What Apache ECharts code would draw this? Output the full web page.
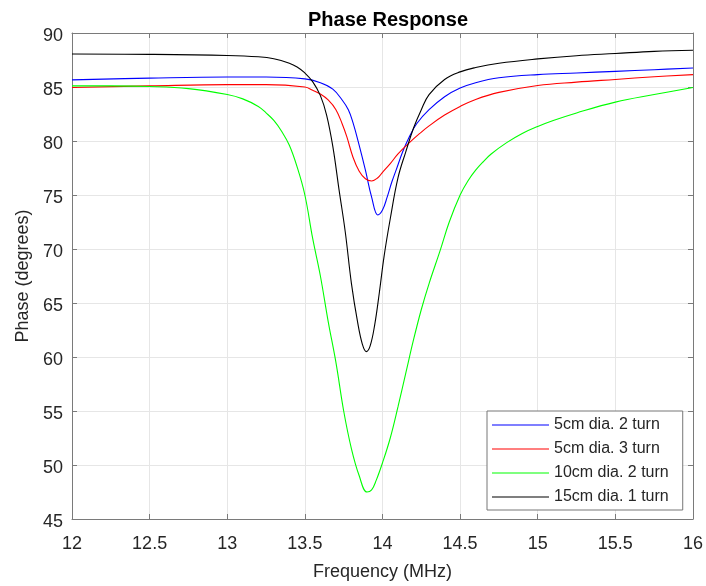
<!DOCTYPE html>
<html>
<head>
<meta charset="utf-8">
<script src="https://cdn.jsdelivr.net/npm/echarts@6/dist/echarts.min.js"></script>
<style>
html,body{margin:0;padding:0;background:#fff;}
#chart{width:706px;height:586px;}
</style>
</head>
<body>
<div id="chart"></div>
<script>
// Tick settings
const xTicks = [12, 12.5, 13, 13.5, 14, 14.5, 15, 15.5, 16];
const yTicks = [45, 50, 55, 60, 65, 70, 75, 80, 85, 90];

const seriesNames = ['5cm dia. 2 turn', '5cm dia. 3 turn', '10cm dia. 2 turn', '15cm dia. 1 turn'];

// [frequency MHz, phase degrees]
const blue5cm2t = [
  [12.0,85.66],[12.5,85.82],[13.0,85.92],[13.25,85.92],[13.5,85.75],[13.6,85.4],[13.68,84.8],
  [13.74,83.8],[13.78,82.9],[13.81,81.7],[13.85,79.6],[13.89,77.3],[13.93,74.8],[13.97,73.15],
  [14.0,73.6],[14.03,74.8],[14.06,76.2],[14.09,77.4],[14.13,79.0],[14.17,80.3],[14.22,81.6],
  [14.3,82.9],[14.4,84.1],[14.5,84.9],[14.6,85.4],[14.75,85.85],[15.0,86.15],[15.25,86.3],
  [15.5,86.45],[15.75,86.6],[16.0,86.76]
];
const red5cm3t = [
  [12.0,84.95],[12.5,85.1],[13.0,85.22],[13.25,85.22],[13.5,85.0],[13.55,84.7],[13.6,84.35],
  [13.65,83.8],[13.7,82.9],[13.74,81.6],[13.77,80.4],[13.81,78.5],[13.85,77.2],[13.89,76.5],
  [13.93,76.3],[13.97,76.6],[14.0,77.1],[14.05,77.9],[14.1,78.8],[14.17,79.8],[14.24,80.7],
  [14.3,81.4],[14.4,82.4],[14.5,83.2],[14.6,83.85],[14.75,84.5],[15.0,85.14],[15.25,85.45],
  [15.5,85.7],[15.75,85.95],[16.0,86.15]
];
const green10cm2t = [
  [12.0,85.1],[12.25,85.1],[12.5,85.05],[12.75,84.85],[13.0,84.3],[13.1,83.9],[13.2,83.2],
  [13.25,82.6],[13.3,81.9],[13.35,80.9],[13.4,79.6],[13.45,77.6],[13.5,75.0],[13.55,71.0],
  [13.6,67.5],[13.65,63.3],[13.7,59.5],[13.75,55.0],[13.8,51.5],[13.85,49.0],[13.9,47.5],
  [13.93,47.7],[13.96,48.6],[14.0,50.2],[14.05,52.5],[14.1,55.4],[14.15,58.5],[14.2,61.6],
  [14.25,64.4],[14.3,66.8],[14.37,69.8],[14.43,72.5],[14.5,75.0],[14.55,76.3],[14.6,77.3],
  [14.65,78.1],[14.7,78.8],[14.8,79.85],[14.9,80.7],[15.0,81.35],[15.1,81.9],[15.25,82.6],
  [15.5,83.6],[15.75,84.3],[16.0,84.95]
];
const black15cm1t = [
  [12.0,88.05],[12.5,88.02],[13.0,87.92],[13.2,87.8],[13.3,87.62],[13.4,87.2],[13.45,86.85],
  [13.5,86.3],[13.55,85.5],[13.6,84.2],[13.64,82.4],[13.68,79.5],[13.72,75.5],[13.76,71.6],
  [13.8,66.8],[13.84,63.2],[13.87,61.2],[13.895,60.5],[13.92,61.0],[13.95,63.0],[13.98,66.0],
  [14.01,69.3],[14.05,72.8],[14.1,76.6],[14.15,79.0],[14.2,81.2],[14.25,82.9],[14.3,84.3],
  [14.4,85.7],[14.5,86.4],[14.6,86.8],[14.75,87.2],[15.0,87.6],[15.25,87.9],[15.5,88.1],
  [15.75,88.3],[16.0,88.4]
];

const colors = ['#0000ff', '#ff0000', '#00ff00', '#000000'];
const datasets = [blue5cm2t, red5cm3t, green10cm2t, black15cm1t];

const font = "'Liberation Sans', Arial, Helvetica, sans-serif";
const txt = '#262626';
const axisCol = '#7a7a7a';

const chart = echarts.init(document.getElementById('chart'), null, {renderer: 'canvas'});

function fmt(v){ return String(v); }
function fmtY(v){ return '{a|' + v + '}'; }

const option = {
  animation: false,
  backgroundColor: '#ffffff',
  title: {
    text: 'Phase Response',
    left: 383, top: 5, textAlign: 'center',
    textStyle: {fontFamily: font, fontSize: 20, fontWeight: 'bold', color: '#000'}
  },
  legend: {
    orient: 'vertical',
    left: 487, top: 411,
    data: seriesNames,
    icon: 'rect',
    itemWidth: 57, itemHeight: 1,
    itemGap: 6,
    padding: [5, 14, 4, 5],
    borderColor: '#777', borderWidth: 1,
    backgroundColor: '#fff',
    textStyle: {fontFamily: font, fontSize: 16, color: txt, lineHeight: 18}
  },
  grid: {left: 72, right: 12, top: 33, bottom: 62, containLabel: false},
  xAxis: [{
    type: 'value', min: 12, max: 16, interval: 0.5,
    name: 'Frequency (MHz)', nameLocation: 'middle', nameGap: 44,
    nameTextStyle: {fontFamily: font, fontSize: 18, color: txt},
    axisLine: {show: true, onZero: false, lineStyle: {color: axisCol, width: 1}},
    axisTick: {show: true, inside: true, length: 5, lineStyle: {color: axisCol}},
    axisLabel: {fontFamily: font, fontSize: 18, color: txt, margin: 16, formatter: fmt},
    splitLine: {show: true, lineStyle: {color: '#e6e6e6', width: 1}}
  }, {
    type: 'value', min: 12, max: 16, interval: 0.5, position: 'top',
    axisLine: {show: true, onZero: false, lineStyle: {color: axisCol, width: 1}},
    axisTick: {show: true, inside: true, length: 5, lineStyle: {color: axisCol}},
    axisLabel: {show: false}, splitLine: {show: false}
  }],
  yAxis: [{
    type: 'value', min: 45, max: 90, interval: 5,
    name: 'Phase (degrees)', nameLocation: 'middle', nameGap: 33,
    nameTextStyle: {fontFamily: font, fontSize: 18, color: txt},
    axisLine: {show: true, onZero: false, lineStyle: {color: axisCol, width: 1}},
    axisTick: {show: true, inside: true, length: 5, lineStyle: {color: axisCol}},
    axisLabel: {
      fontFamily: font, fontSize: 18, color: txt, margin: 9, formatter: fmtY,
      rich: {a: {fontFamily: font, fontSize: 18, color: txt, padding: [6, 0, 0, 0]}}
    },
    splitLine: {show: true, lineStyle: {color: '#e6e6e6', width: 1}}
  }, {
    type: 'value', min: 45, max: 90, interval: 5, position: 'right',
    axisLine: {show: true, onZero: false, lineStyle: {color: axisCol, width: 1}},
    axisTick: {show: true, inside: true, length: 5, lineStyle: {color: axisCol}},
    axisLabel: {show: false}, splitLine: {show: false}
  }],
  series: datasets.map((d, i) => ({
    name: seriesNames[i],
    type: 'line',
    xAxisIndex: 0, yAxisIndex: 0,
    data: d,
    showSymbol: false,
    symbol: 'none',
    smooth: 0.4,
    color: colors[i],
    lineStyle: {color: colors[i], width: 1.1},
    z: 2 + i
  }))
};
chart.setOption(option);
</script>
</body>
</html>
